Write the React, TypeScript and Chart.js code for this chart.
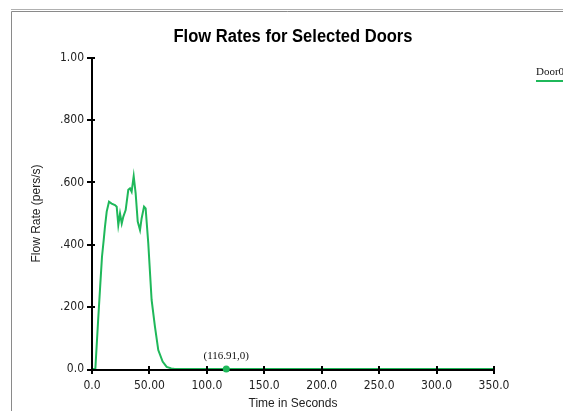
import React, { useEffect, useRef } from "react";
import { Chart, registerables } from "chart.js";

Chart.register(...registerables);

const chartTitle = "Flow Rates for Selected Doors";
const xAxisTitle = "Time in Seconds";
const yAxisTitle = "Flow Rate (pers/s)";
const legendLabel = "Door001";

const timeSeconds = [
  0, 2.9, 5.2, 7.3, 8.7, 10.2, 11.3, 12.8, 14.8, 17.1,
  20.0, 21.5, 22.9, 24.4, 25.9, 27.3, 29.3, 31.6, 33.1, 34.5,
  36.3, 38.0, 39.8, 41.8, 43.2, 45.3, 46.7, 49.0, 51.9, 54.8,
  57.7, 61.5, 65.0, 69.0, 72.0, 350,
];
const flowRate = [
  0, 0, 0.148, 0.277, 0.361, 0.415, 0.458, 0.506, 0.538, 0.532,
  0.527, 0.522, 0.463, 0.5, 0.468, 0.49, 0.511, 0.576, 0.581, 0.57,
  0.62, 0.565, 0.474, 0.447, 0.484, 0.522, 0.516, 0.404, 0.222, 0.136,
  0.061, 0.024, 0.007, 0.002, 0, 0,
];

const markerX = 116.91;
const markerY = 0;
const markerLabel = "(116.91,0)";

const xTickValues = [0, 50, 100, 150, 200, 250, 300, 350];
const xTickLabels = ["0.0", "50.00", "100.0", "150.0", "200.0", "250.0", "300.0", "350.0"];
const yTickValues = [0, 0.2, 0.4, 0.6, 0.8, 1.0];
const yTickLabels = ["0.0", ".200", ".400", ".600", ".800", "1.00"];

const GREEN = "#1fb85a";
const NARROW = '"Liberation Sans Narrow", "DejaVu Sans Condensed", "Liberation Sans", sans-serif';
const SANS = '"Liberation Sans", Arial, sans-serif';
const SERIF = '"Liberation Serif", "DejaVu Serif", serif';

const labelFor = (values: number[], labels: string[], v: number) => {
  const i = values.findIndex((x) => Math.abs(x - v) < 1e-6);
  return i >= 0 ? labels[i] : "";
};

const decorPlugin = {
  id: "decor",
  beforeDraw(chart: any) {
    const ctx = chart.ctx;
    ctx.save();
    ctx.fillStyle = "#ffffff";
    ctx.fillRect(0, 0, chart.width, chart.height);
    ctx.lineWidth = 1;
    ctx.strokeStyle = "#b0b0b0";
    ctx.beginPath();
    ctx.moveTo(11, 9.5);
    ctx.lineTo(chart.width, 9.5);
    ctx.stroke();
    ctx.strokeStyle = "#8a8a8a";
    ctx.beginPath();
    ctx.moveTo(chart.width, 11.5);
    ctx.lineTo(11.5, 11.5);
    ctx.lineTo(11.5, chart.height);
    ctx.stroke();
    ctx.fillStyle = "#000000";
    ctx.font = `bold 18px ${SANS}`;
    ctx.textAlign = "center";
    ctx.textBaseline = "alphabetic";
    const w = ctx.measureText(chartTitle).width;
    const sx = Math.min(1, 239 / w);
    ctx.translate(293, 42);
    ctx.scale(sx, 1);
    ctx.fillText(chartTitle, 0, 0);
    ctx.restore();
  },
  afterDatasetDraw(chart: any, args: any) {
    if (args.index !== 0) return;
    const ctx = chart.ctx;
    const { left, right, top, bottom } = chart.chartArea;
    const xs = chart.scales.x;
    const ys = chart.scales.y;
    ctx.save();
    ctx.strokeStyle = "#000000";
    ctx.lineWidth = 2;
    ctx.beginPath();
    ctx.moveTo(left, top);
    ctx.lineTo(left, bottom + 1);
    ctx.lineTo(right, bottom + 1);
    ctx.stroke();
    for (const v of yTickValues) {
      const py = Math.round(ys.getPixelForValue(v)) + (v === 0 ? 1 : 0);
      ctx.beginPath();
      ctx.moveTo(left - 5, py);
      ctx.lineTo(left + 3, py);
      ctx.stroke();
    }
    for (const v of xTickValues) {
      const px = Math.round(xs.getPixelForValue(v));
      ctx.beginPath();
      ctx.moveTo(px, bottom - 3);
      ctx.lineTo(px, bottom + 5);
      ctx.stroke();
    }
    ctx.restore();
  },
  afterDraw(chart: any) {
    const ctx = chart.ctx;
    const xs = chart.scales.x;
    const ys = chart.scales.y;
    ctx.save();
    ctx.fillStyle = "#111111";
    ctx.font = `11px ${SERIF}`;
    ctx.textAlign = "center";
    ctx.textBaseline = "alphabetic";
    ctx.fillText(markerLabel, xs.getPixelForValue(markerX), ys.getPixelForValue(markerY) - 10);
    ctx.textAlign = "left";
    ctx.fillText(legendLabel, 536, 75);
    ctx.strokeStyle = GREEN;
    ctx.lineWidth = 2;
    ctx.beginPath();
    ctx.moveTo(536, 81);
    ctx.lineTo(chart.width, 81);
    ctx.stroke();
    ctx.restore();
  },
};

export default function App() {
  const canvasRef = useRef<HTMLCanvasElement | null>(null);

  useEffect(() => {
    if (!canvasRef.current) return;
    const lineData = timeSeconds.map((t, i) => ({ x: t, y: flowRate[i] }));
    const chart = new Chart(canvasRef.current, {
      type: "line",
      data: {
        datasets: [
          {
            label: legendLabel,
            data: lineData,
            borderColor: GREEN,
            borderWidth: 2,
            pointRadius: 0,
            tension: 0,
            fill: false,
            order: 1,
          },
          {
            label: "marker",
            data: [{ x: markerX, y: markerY }],
            borderColor: GREEN,
            backgroundColor: GREEN,
            pointRadius: 3.5,
            pointBorderWidth: 0,
            showLine: false,
            clip: false,
            order: 0,
          },
        ],
      },
      options: {
        animation: false,
        responsive: false,
        maintainAspectRatio: false,
        devicePixelRatio: 1,
        layout: { padding: { left: 0, right: 69, top: 58, bottom: 0 } },
        plugins: {
          legend: { display: false },
          title: { display: false },
          tooltip: { enabled: false },
        },
        scales: {
          x: {
            type: "linear",
            min: 0,
            max: 350,
            afterFit: (s: any) => {
              s.height = 42;
            },
            afterBuildTicks: (s: any) => {
              s.ticks = xTickValues.map((v) => ({ value: v }));
            },
            grid: { display: false, drawTicks: false },
            border: { display: false },
            ticks: {
              padding: 10,
              color: "#222222",
              font: { family: NARROW, size: 12 },
              maxRotation: 0,
              autoSkip: false,
              callback: (v: any) => labelFor(xTickValues, xTickLabels, Number(v)),
            },
            title: {
              display: true,
              text: xAxisTitle,
              color: "#222222",
              font: { family: SANS, size: 12 },
              padding: { top: 0, bottom: 0 },
            },
          },
          y: {
            type: "linear",
            min: 0,
            max: 1,
            afterFit: (s: any) => {
              s.width = 92;
            },
            afterBuildTicks: (s: any) => {
              s.ticks = yTickValues.map((v) => ({ value: v }));
            },
            grid: { display: false, drawTicks: false },
            border: { display: false },
            ticks: {
              padding: 8,
              color: "#222222",
              font: { family: NARROW, size: 12 },
              autoSkip: false,
              callback: (v: any) => labelFor(yTickValues, yTickLabels, Number(v)),
            },
            title: {
              display: true,
              text: yAxisTitle,
              color: "#222222",
              font: { family: SANS, size: 12 },
              padding: { top: 29, bottom: 0 },
            },
          },
        },
      },
      plugins: [decorPlugin],
    });
    return () => chart.destroy();
  }, []);

  return (
    <div style={{ position: "absolute", left: 0, top: 0, width: 563, height: 411 }}>
      <canvas ref={canvasRef} width={563} height={411} style={{ display: "block", width: 563, height: 411 }} />
    </div>
  );
}
